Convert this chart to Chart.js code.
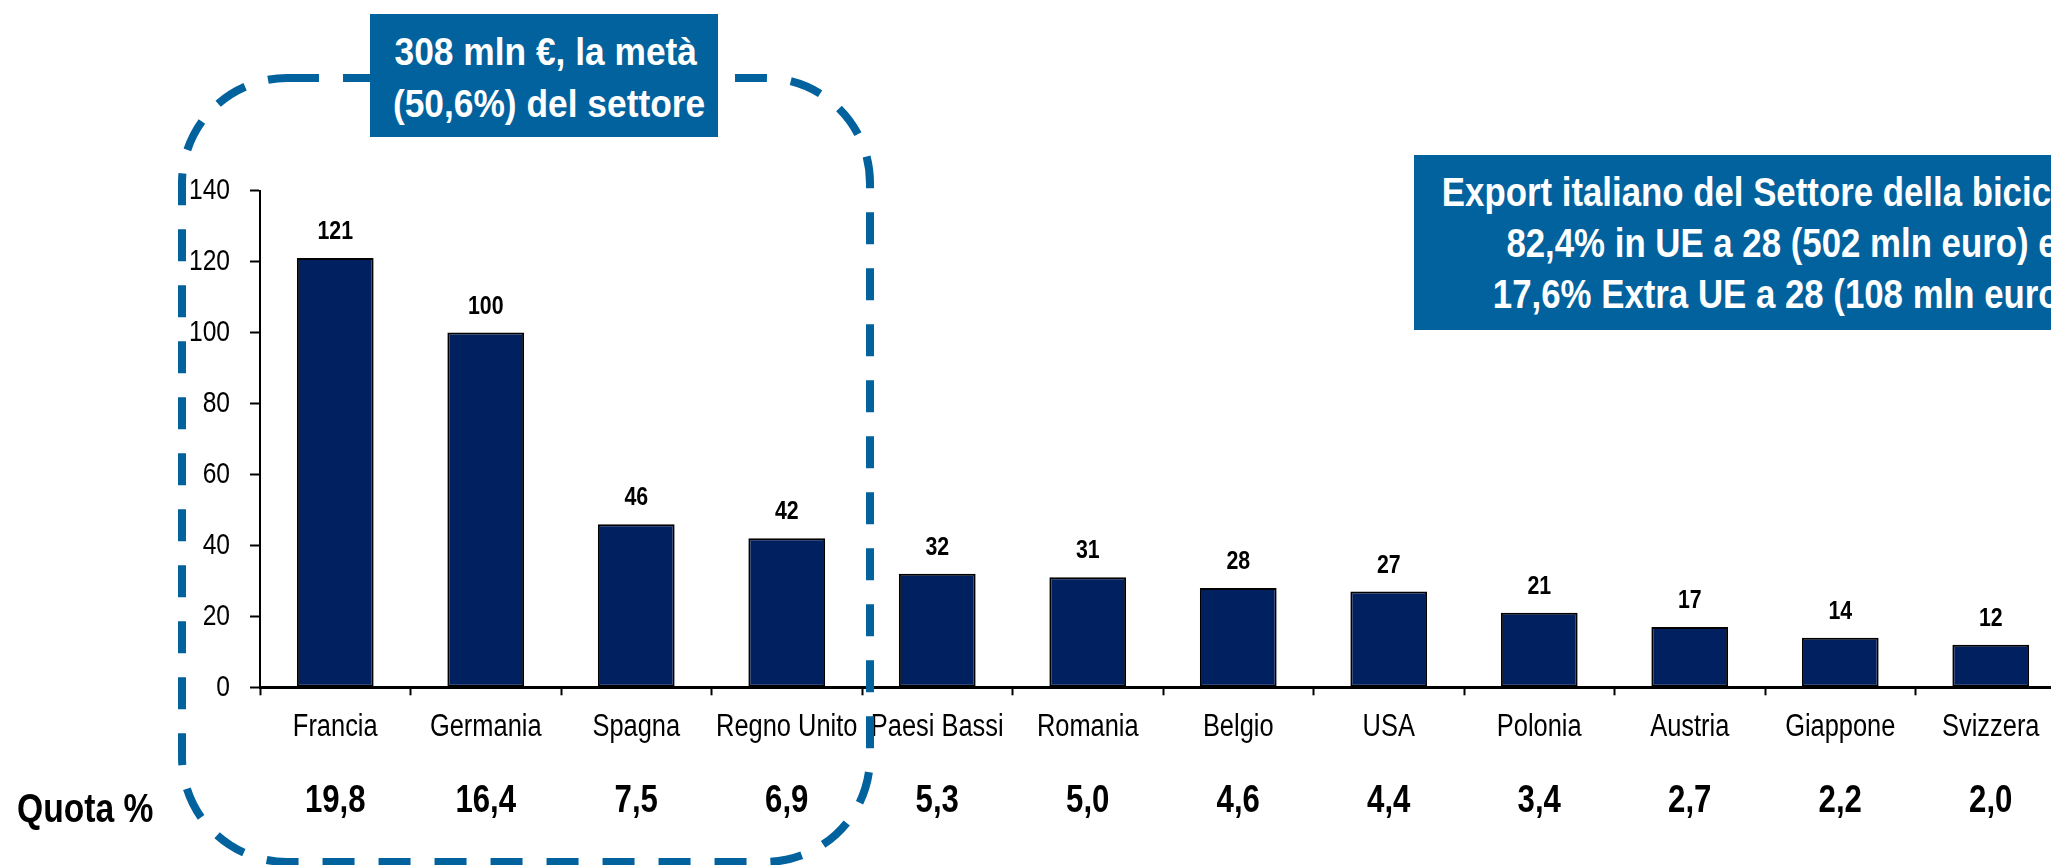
<!DOCTYPE html>
<html>
<head>
<meta charset="utf-8">
<script src="https://cdn.jsdelivr.net/npm/chart.js@4.4.1/dist/chart.umd.min.js"></script>
<style>
  html, body { margin: 0; padding: 0; background: #fff; overflow: hidden; width: 2051px; height: 865px; }
  #wrap { position: relative; width: 2051px; height: 865px; overflow: hidden; }
  #chart { position: absolute; left: 0; top: 0; }
  .box {
    position: absolute;
    background: #02629e;
    color: #fff;
    font-family: "Liberation Sans", Arial, sans-serif;
    font-weight: bold;
    white-space: nowrap;
    box-sizing: border-box;
  }
  .box span { display: block; }
  /* niente Arial Narrow: stringo il testo in orizzontale */
  #boxTop { left: 370px; top: 14px; width: 348px; height: 123px; font-size: 38px; line-height: 52px; text-align: right; padding: 12px 21px 0 0; }
  #boxTop span { transform: scaleX(0.93); transform-origin: right center; }
  #boxRight { left: 1414px; top: 155px; width: 736px; height: 175px; font-size: 40px; line-height: 51px; text-align: center; padding-top: 12px; }
  #boxRight span { transform: scaleX(0.87); transform-origin: center center; }
  #boxRight span.first { transform: translateX(-20px) scaleX(0.87); }
</style>
</head>
<body>
<div id="wrap">
  <canvas id="chart" width="2066" height="865"></canvas>
  <div class="box" id="boxTop"><span>308 mln €, la metà</span><span>(50,6%) del settore</span></div>
  <div class="box" id="boxRight"><span class="first">Export italiano del Settore della bicicletta:</span><span>82,4% in UE a 28 (502 mln euro) e</span><span>17,6% Extra UE a 28 (108 mln euro)</span></div>
</div>
<script>
  // dati
  const paesi = ["Francia", "Germania", "Spagna", "Regno Unito", "Paesi Bassi", "Romania", "Belgio", "USA", "Polonia", "Austria", "Giappone", "Svizzera"];
  const valori = [121, 100, 46, 42, 32, 31, 28, 27, 21, 17, 14, 12];
  const quote = [19.8, 16.4, 7.5, 6.9, 5.3, 5.0, 4.6, 4.4, 3.4, 2.7, 2.2, 2.0];
  const yMin = 0;
  const yMax = 140;
  const yStep = 20;

  const FONT = "'Liberation Sans', Arial, sans-serif";
  const BLU = "#02629e";
  const NARROW = 0.82;

  const ctx = document.getElementById("chart").getContext("2d");

  // testo "narrow": ogni fillText viene schiacciato in x attorno al punto di ancoraggio
  const baseFillText = CanvasRenderingContext2D.prototype.fillText;
  ctx.fillText = function (text, x, y) {
    this.save();
    this.translate(x, y);
    this.scale(NARROW, 1);
    baseFillText.call(this, text, 0, 0);
    this.restore();
  };

  // etichette sopra le barre + riga "Quota %" + riquadro tratteggiato
  const extras = {
    id: "extras",
    afterDatasetsDraw(chart) {
      const c = chart.ctx;
      const meta = chart.getDatasetMeta(0);
      c.save();
      c.fillStyle = "#000";
      c.textAlign = "center";
      c.textBaseline = "alphabetic";
      c.font = "bold 26px " + FONT;
      meta.data.forEach((bar, i) => {
        c.fillText(String(valori[i]), bar.x, bar.y - 19);
      });
      c.restore();
    },
    afterDraw(chart) {
      const c = chart.ctx;
      const xs = chart.scales.x;
      c.save();
      c.fillStyle = "#000";
      c.textBaseline = "alphabetic";
      c.font = "bold 38px " + FONT;
      c.textAlign = "center";
      quote.forEach((q, i) => {
        c.fillText(q.toFixed(1).replace(".", ","), xs.getPixelForValue(i), 812);
      });
      c.font = "bold 41px " + FONT;
      c.textAlign = "left";
      c.fillText("Quota %", 17, 822);

      // riquadro tratteggiato arrotondato
      c.strokeStyle = BLU;
      c.lineWidth = 8;
      c.setLineDash([32, 24]);
      c.beginPath();
      c.roundRect(182, 78, 688, 784, 105);
      c.stroke();
      c.restore();
    }
  };

  const chart = new Chart(ctx, {
    type: "bar",
    data: {
      labels: paesi,
      datasets: [
        {
          data: valori,
          backgroundColor: "#002060",
          borderColor: "#000",
          borderWidth: 2,
          borderSkipped: false,
          categoryPercentage: 1,
          barPercentage: 0.51,
        },
      ],
    },
    options: {
      responsive: false,
      animation: false,
      layout: { padding: { top: 190.7, left: 0, right: 0, bottom: 0 } },
      plugins: { legend: { display: false }, tooltip: { enabled: false } },
      scales: {
        x: {
          afterFit(scale) {
            scale.height = 177.7;
          },
          grid: { drawOnChartArea: false, tickLength: 8, tickColor: "#000", tickWidth: 2 },
          border: { display: true, color: "#000", width: 3 },
          ticks: {
            color: "#000",
            font: { family: FONT, size: 31 },
            padding: 14,
            maxRotation: 0,
            autoSkip: false,
          },
        },
        y: {
          min: yMin,
          max: yMax,
          afterFit(scale) {
            scale.width = 260;
          },
          grid: { drawOnChartArea: false, tickLength: 10, tickColor: "#000", tickWidth: 2 },
          border: { display: true, color: "#000", width: 2 },
          ticks: {
            stepSize: yStep,
            color: "#000",
            font: { family: FONT, size: 30 },
            padding: 20,
          },
        },
      },
    },
    plugins: [extras],
  });
</script>
</body>
</html>
